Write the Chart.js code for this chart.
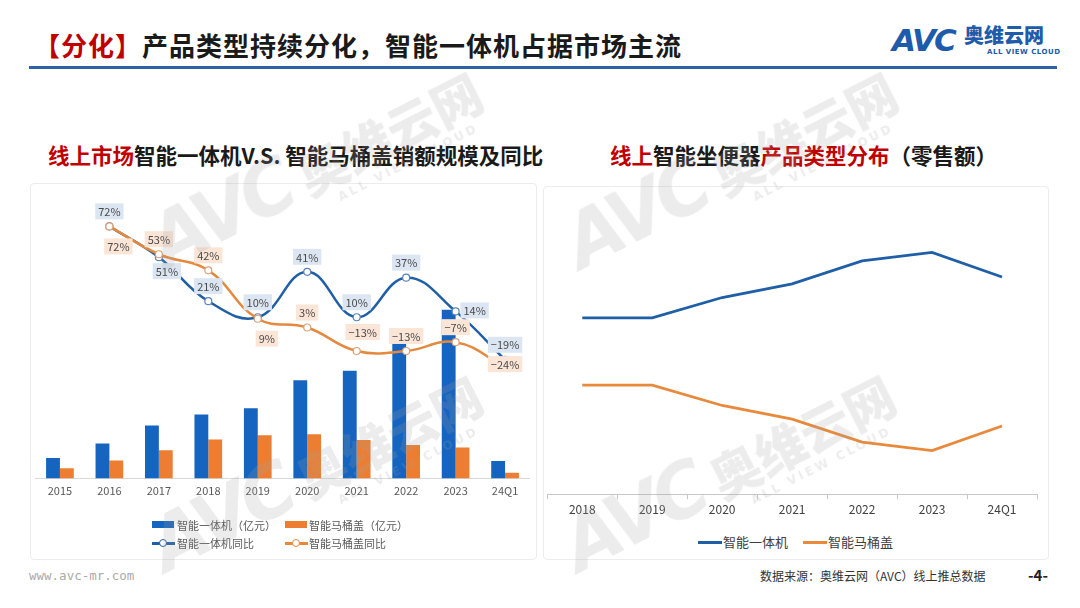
<!DOCTYPE html>
<html>
<head>
<meta charset="utf-8">
<script src="https://cdn.jsdelivr.net/npm/chart.js@4.4.1/dist/chart.umd.min.js"></script>
<style>
body { margin: 0; width: 1080px; height: 608px; position: relative; background: #fff; overflow: hidden;
       font-family: "Noto Sans CJK SC", "Noto Sans", sans-serif; }
.abs { position: absolute; white-space: nowrap; }
.red { color: #C00000; }
.title { left: 34px; top: 30px; font-size: 26px; font-weight: 700; line-height: 30px; color: #1a1a1a; letter-spacing: 1px; }
.rule { left: 29px; top: 66px; width: 1028px; height: 3px; background: #2D63A6; }
.sub { top: 141px; font-size: 21.5px; font-weight: 700; line-height: 28px; color: #1a1a1a; }
.panel { border: 1px solid #ececec; border-radius: 4px; }
.leg { font-size: 11px; color: #595959; line-height: 14px; }
.leg2 { font-size: 13px; color: #404040; line-height: 16px; }
.wm { pointer-events: none; color: rgba(160,160,160,0.2); transform: translate(-50%,-50%) rotate(-27deg); font-weight: 900; }
.wm .a { font-size: 74px; font-style: italic; letter-spacing: -5px; font-family: "DejaVu Sans", sans-serif; }
.wm .c { font-size: 50px; margin-left: 12px; }
.wm .e { position: absolute; right: 18px; bottom: -4px; font-size: 12px; letter-spacing: 3px; font-family: "DejaVu Sans", sans-serif; }
</style>
</head>
<body>
<div class="abs title"><span class="red">【分化】</span>产品类型持续分化，智能一体机占据市场主流</div>
<div class="abs rule"></div>
<div class="abs" style="left:892px;top:22px;font-size:31px;font-weight:900;color:#1E5BAA;font-style:italic;font-family:'DejaVu Sans',sans-serif;letter-spacing:-2px;line-height:36px;">AVC</div>
<div class="abs" style="left:964px;top:24px;font-size:20px;font-weight:900;color:#1E5BAA;line-height:22px;">奥维云网</div>
<div class="abs" style="left:987px;top:48px;font-size:7px;font-weight:700;color:#1E5BAA;letter-spacing:0.5px;line-height:8px;font-family:'DejaVu Sans',sans-serif;">ALL VIEW CLOUD</div>

<div class="abs sub" style="left:48px;"><span class="red">线上市场</span>智能一体机V.S. 智能马桶盖销额规模及同比</div>
<div class="abs sub" style="left:610px;"><span class="red">线上</span>智能坐便器<span class="red">产品类型分布</span>（零售额）</div>

<div class="abs panel" style="left:30px;top:183px;width:505px;height:375px;"></div>
<div class="abs panel" style="left:543px;top:186px;width:504px;height:372px;"></div>

<div class="abs" style="left:30px;top:190px;width:505px;height:330px;"><canvas id="left"></canvas></div>
<div class="abs" style="left:543px;top:190px;width:504px;height:340px;"><canvas id="right"></canvas></div>

<!-- left legend -->
<div class="abs" style="left:152px;top:521px;width:22px;height:7px;background:#1565C0;"></div>
<div class="abs leg" style="left:177px;top:518px;">智能一体机（亿元）</div>
<div class="abs" style="left:285px;top:521px;width:22px;height:7px;background:#ED7D31;"></div>
<div class="abs leg" style="left:309px;top:518px;">智能马桶盖（亿元）</div>
<div class="abs" style="left:152px;top:542px;width:23px;height:2.5px;background:#1F5FA6;"></div>
<div class="abs" style="left:159px;top:539px;width:6px;height:6px;border:1.2px solid #1F5FA6;border-radius:50%;background:#fff;"></div>
<div class="abs leg" style="left:177px;top:536px;">智能一体机同比</div>
<div class="abs" style="left:285px;top:542px;width:23px;height:2.5px;background:#E5893F;"></div>
<div class="abs" style="left:292px;top:539px;width:6px;height:6px;border:1.2px solid #E5893F;border-radius:50%;background:#fff;"></div>
<div class="abs leg" style="left:309px;top:536px;">智能马桶盖同比</div>

<!-- right legend -->
<div class="abs" style="left:698px;top:541px;width:24px;height:3px;background:#1F5FA8;"></div>
<div class="abs leg2" style="left:723px;top:534px;">智能一体机</div>
<div class="abs" style="left:803px;top:541px;width:24px;height:3px;background:#E8893B;"></div>
<div class="abs leg2" style="left:828px;top:534px;">智能马桶盖</div>

<div class="abs" style="left:29px;top:568px;font-size:12.5px;color:#aaa;font-family:'DejaVu Sans Mono',monospace;line-height:16px;">www.avc-mr.com</div>
<div class="abs" style="left:760px;top:568px;font-size:12px;color:#333;line-height:16px;">数据来源：奥维云网（AVC）线上推总数据</div>
<div class="abs" style="left:1028px;top:566px;font-size:15px;font-weight:700;color:#222;line-height:18px;">-4-</div>

<!-- watermarks -->
<div class="abs wm" style="left:315px;top:165px;"><span class="a">AVC</span><span class="c">奥维云网</span><span class="e">ALL VIEW CLOUD</span></div>
<div class="abs wm" style="left:730px;top:165px;"><span class="a">AVC</span><span class="c">奥维云网</span><span class="e">ALL VIEW CLOUD</span></div>
<div class="abs wm" style="left:315px;top:468px;"><span class="a">AVC</span><span class="c">奥维云网</span><span class="e">ALL VIEW CLOUD</span></div>
<div class="abs wm" style="left:728px;top:468px;"><span class="a">AVC</span><span class="c">奥维云网</span><span class="e">ALL VIEW CLOUD</span></div>

<script>
// 左图：销额规模（亿元）及同比（%）
const years = ['2015', '2016', '2017', '2018', '2019', '2020', '2021', '2022', '2023', '24Q1'];
const aioSales = [20.5, 35, 53, 64, 70.5, 98.5, 108, 148, 169, 17.5];
const seatSales = [10.3, 18, 28.3, 39, 43.3, 44.3, 38.5, 33.5, 31, 5.7];
const aioYoy = [null, 72, 51, 21, 10, 41, 10, 37, 14, -19];
const seatYoy = [null, 72, 53, 42, 9, 3, -13, -13, -7, -24];

// 右图：产品类型分布（零售额占比 %）
const shareYears = ['2018', '2019', '2020', '2021', '2022', '2023', '24Q1'];
const aioShare = [61.8, 61.8, 68.9, 73.7, 81.7, 84.7, 76.1];
const seatShare = [38.2, 38.2, 31.1, 26.3, 18.3, 15.3, 23.9];

// 标签位置
const labelOffsets = { a: [0, -15], r: [19, -1], br: [9, 20], bR: [8, 14], ar: [6, -19], c: [0, -3] };
const aioLabelPos = [null, 'a', 'bR', 'a', 'a', 'a', 'a', 'a', 'r', 'a'];
const seatLabelPos = [null, 'br', 'a', 'a', 'br', 'a', 'ar', 'a', 'a', 'c'];

const FONT = '"Noto Sans CJK SC", "Noto Sans", sans-serif';
Chart.defaults.font.family = FONT;

const pctLabels = {
    id: 'pctLabels',
    afterDatasetsDraw(chart) {
        const ctx = chart.ctx;
        ctx.save();
        ctx.font = '11px ' + FONT;
        ctx.textAlign = 'center';
        ctx.textBaseline = 'middle';
        chart.data.datasets.forEach((ds, di) => {
            if (!ds.labelPos) return;
            const meta = chart.getDatasetMeta(di);
            meta.data.forEach((pt, i) => {
                const v = ds.data[i];
                if (v == null) return;
                const off = labelOffsets[ds.labelPos[i]];
                const x = pt.x + off[0], y = pt.y + off[1];
                const t = (v < 0 ? '\u2212' + Math.abs(v) : v) + '%';
                const w = ctx.measureText(t).width + 6;
                ctx.fillStyle = ds.labelBg;
                ctx.fillRect(x - w / 2, y - 8, w, 16);
                ctx.fillStyle = '#4a4a4a';
                ctx.fillText(t, x, y + 0.5);
            });
        });
        ctx.restore();
    }
};

new Chart(document.getElementById('left'), {
    type: 'bar',
    data: {
        labels: years,
        datasets: [
            {
                type: 'line', label: '智能马桶盖同比', data: seatYoy, yAxisID: 'y2', order: 1,
                borderColor: '#E5893F', borderWidth: 2.5, tension: 0.42,
                pointRadius: 3.5, pointBackgroundColor: '#fff', pointBorderColor: '#D9A27A', pointBorderWidth: 1.2,
                labelPos: seatLabelPos, labelBg: '#FBE5D6'
            },
            {
                type: 'line', label: '智能一体机同比', data: aioYoy, yAxisID: 'y2', order: 2,
                borderColor: '#1F5FA6', borderWidth: 2.5, tension: 0.42,
                pointRadius: 3.5, pointBackgroundColor: '#fff', pointBorderColor: '#5B84B8', pointBorderWidth: 1.2,
                labelPos: aioLabelPos, labelBg: '#DCE6F2'
            },
            {
                label: '智能一体机（亿元）', data: aioSales, yAxisID: 'y', order: 3,
                backgroundColor: '#1565C0', categoryPercentage: 0.56, barPercentage: 1
            },
            {
                label: '智能马桶盖（亿元）', data: seatSales, yAxisID: 'y', order: 3,
                backgroundColor: '#ED7D31', categoryPercentage: 0.56, barPercentage: 1
            }
        ]
    },
    options: {
        responsive: true,
        maintainAspectRatio: false,
        animation: false,
        layout: { padding: { left: 3, right: 5, top: 10, bottom: 16.3 } },
        plugins: { legend: { display: false }, tooltip: { enabled: false } },
        scales: {
            x: {
                grid: { drawOnChartArea: false, drawTicks: false },
                border: { display: true, color: '#d9d9d9' },
                ticks: { color: '#595959', font: { size: 11 }, padding: 6 }
            },
            y: { display: false, min: 0, max: 279 },
            y2: { display: false, min: -100, max: 90 }
        }
    },
    plugins: [pctLabels]
});

new Chart(document.getElementById('right'), {
    type: 'line',
    data: {
        labels: shareYears,
        datasets: [
            { label: '智能一体机', data: aioShare, borderColor: '#1F5FA8', borderWidth: 2.8, pointRadius: 0, tension: 0 },
            { label: '智能马桶盖', data: seatShare, borderColor: '#E8893B', borderWidth: 2.8, pointRadius: 0, tension: 0 }
        ]
    },
    options: {
        responsive: true,
        maintainAspectRatio: false,
        animation: false,
        layout: { padding: { left: 4.3, right: 10, top: 18.7, bottom: 10.3 } },
        plugins: { legend: { display: false }, tooltip: { enabled: false } },
        scales: {
            x: {
                offset: true,
                grid: { offset: true, drawOnChartArea: false, drawTicks: true, tickLength: 5, color: '#c8c8c8' },
                border: { display: true, color: '#c8c8c8' },
                ticks: { color: '#404040', font: { size: 12 }, padding: 3 }
            },
            y: { display: false, min: 0, max: 100 }
        }
    }
});
</script>
</body>
</html>
